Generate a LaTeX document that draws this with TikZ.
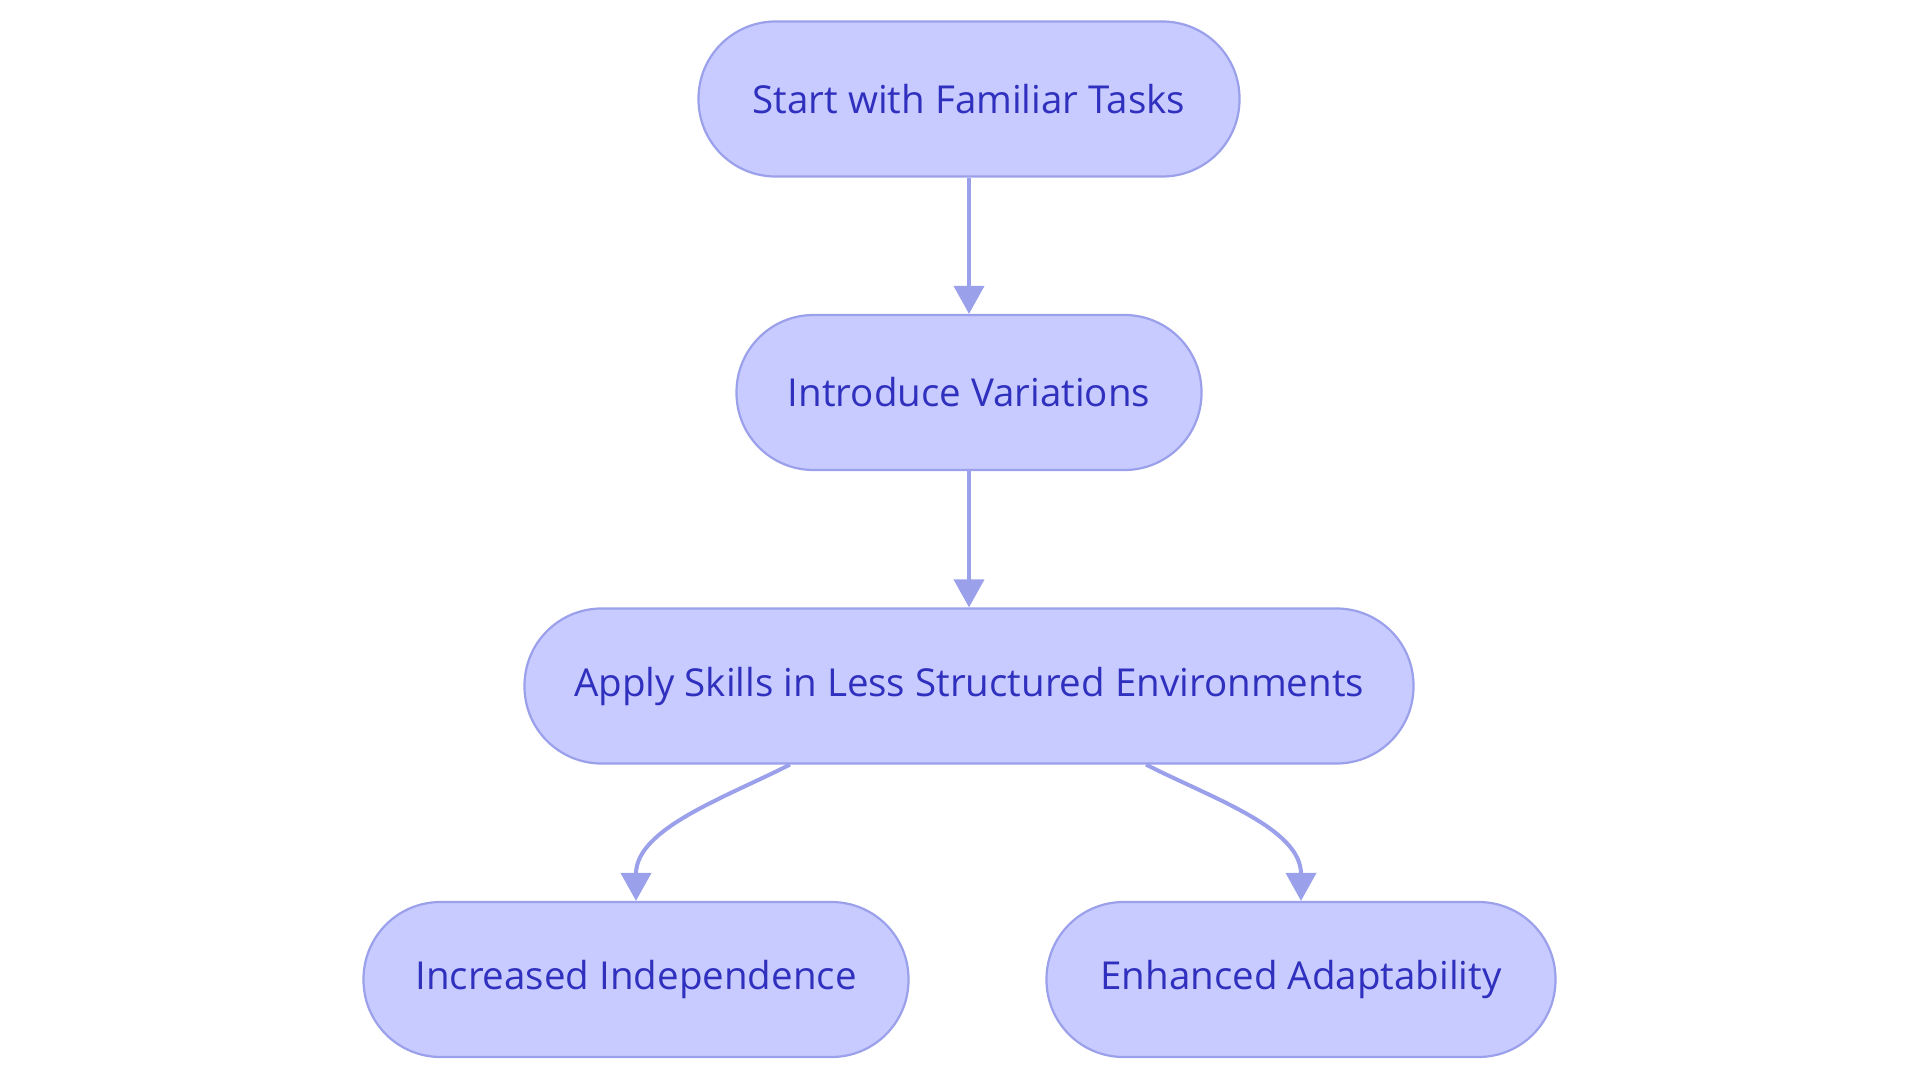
\documentclass[tikz,border=0pt]{standalone}
\usepackage{fontspec}
\setmainfont{Open Sans}
\usetikzlibrary{arrows.meta}

\definecolor{boxfill}{RGB}{200,203,255}
\definecolor{boxline}{RGB}{155,160,235}
\definecolor{boxtext}{RGB}{48,48,190}

\begin{document}
\begin{tikzpicture}[x=1pt,y=-1pt,node distance=293.5pt,
  every node/.style={rectangle,rounded corners=77pt,fill=boxfill,draw=boxline,line width=2.2pt,
    minimum height=155pt,text=boxtext,font=\fontsize{38.5}{45}\selectfont},
  every edge/.style={draw=boxline,line width=4pt,
    -{Triangle[length=28pt,width=30pt,fill=boxline]}}]
\useasboundingbox (0,0) rectangle (1920,1083);
\node[minimum width=541pt] 	(1) at (969,99) {Start with Familiar Tasks};
 \node[minimum width=465pt]  (2) [below of=1]  {Introduce Variations};
  \node[minimum width=889pt] (3) [below of=2]  {Apply Skills in Less Structured Environments};
	\node[minimum width=545pt] (4) [below of=3, xshift=-333pt] {Increased Independence};
	\node[minimum width=509pt] (5) [below of=3, xshift=332pt]  {Enhanced Adaptability};

	\path (1) edge (2)
        (2) edge (3)
        ([xshift=-179pt]3.south) edge[out=-153,in=90,looseness=0.9] (4)
        ([xshift=177pt]3.south) edge[out=-27,in=90,looseness=0.9] (5);
\end{tikzpicture}
\end{document}
